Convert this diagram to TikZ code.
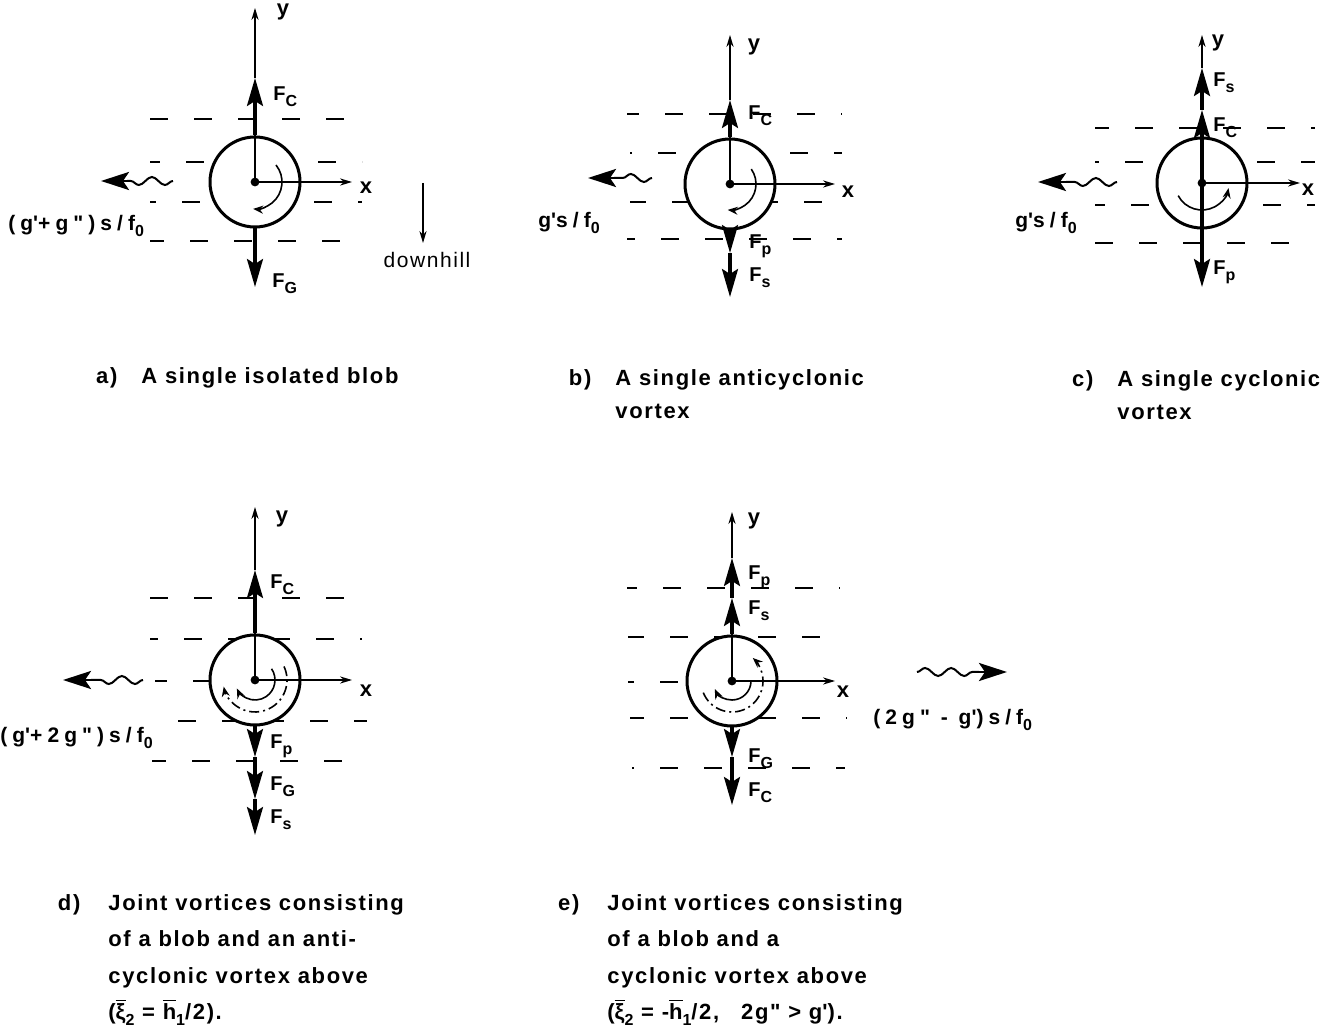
\documentclass[tikz,border=0pt]{standalone}
\usepackage{fontspec}
\setmainfont{Liberation Sans}
\newfontfamily\lettering[LetterSpace=7.5]{Liberation Sans}
\newfontfamily\wideletters[LetterSpace=24]{Liberation Sans}
\usetikzlibrary{arrows.meta,decorations.pathmorphing}
\newcommand{\lowidx}[1]{\raisebox{-0.55ex}{\fontsize{8}{8}\selectfont #1}}
\newcommand{\barred}[1]{\ensuremath{\overline{\hbox{#1}}}}
\newcommand{\prm}{\textquotesingle}
\tikzset{
  level/.style={line width=0.7pt,dash pattern=on 9pt off 13pt},
  blob/.style={circle,draw,line width=1.5pt,fill=white,inner sep=0pt,minimum size=45pt},
  axis/.style={line width=0.6pt,-{Stealth[length=6pt,width=3.6pt]}},
  stem/.style={line width=1pt},
  force/.style={line width=1.6pt,-{Stealth[length=14pt,width=8pt,inset=2.5pt]}},
  spin/.style={line width=0.8pt,-{Stealth[length=5pt,width=4pt]}},
  spinb/.style={spin,dash pattern=on 5pt off 2pt on 1pt off 2pt},
  wave/.style={line width=1pt,decorate,decoration={snake,amplitude=2pt,segment length=13pt}},
  drift/.style={line width=1.4pt,-{Stealth[length=14pt,width=9pt,inset=3pt]}},
  flab/.style={anchor=west,inner sep=0pt,font=\bfseries\fontsize{10}{10}\selectfont},
  alab/.style={inner sep=0pt,font=\bfseries\fontsize{11}{11}\selectfont},
  vlab/.style={anchor=west,inner sep=0pt,font=\wideletters\bfseries\fontsize{10.5}{10.5}\selectfont},
  capt/.style={anchor=north west,inner sep=0pt,align=left,font=\lettering\bfseries\fontsize{11}{16.5}\selectfont},
  captl/.style={capt,font=\lettering\bfseries\fontsize{11}{18.2}\selectfont},
}
\begin{document}
\begin{tikzpicture}[x=0.5pt,y=-0.5pt]
  \useasboundingbox (0,0) rectangle (1344,1036);

  % --- a) isolated blob ---
  \begin{scope}[shift={(255,182)}]
  \draw[level,dash phase=0pt]  (-105,-63) -- (107,-63);
  \draw[level,dash phase=4pt]  (-105,-20) -- (107,-20);
  \draw[level,dash phase=6pt]  (-105,20)  -- (107,20);
  \draw[level,dash phase=2pt]  (-105,59)  -- (107,59);
  \node[blob] (ba) at (0,0) {};
  \coordinate (ao)  at (0,0);
  \coordinate (ay)  at (0,-174);
  \coordinate (ax)  at (97,0);
  \coordinate (afc) at (0,-104);
  \coordinate (afg) at (0,105);
  \draw[stem] (ao) -- (ba.north);
  \draw[force] (ba.north) -- (afc);
  \draw[axis] (afc) -- (ay);
  \draw[force] (ba.south) -- (afg);
  \draw[axis] (ao) -- (ax);
  \fill (ao) circle[radius=2.2pt];
  \draw[spin] (ao) ++(-39:27) arc[start angle=-39,end angle=94,radius=27];
  \node[alab] (aylab) at (28,-170) {y};
  \node[alab] (axlab) at (111,6) {x};
  \node[flab] (afclab) at (18,-85) {F\lowidx{C}};
  \node[flab] (afglab) at (17,102) {F\lowidx{G}};
  \coordinate (aw0) at (-82,-1);
  \coordinate (aw1) at (-128,-1);
  \coordinate (aw2) at (-154,-1);
  \draw[wave] (aw0) -- (aw1);
  \draw[drift] (aw1) -- (aw2);
  \node[vlab] (avel) at (-247,44) {(g\prm+g")s/f\lowidx{0}};
  \coordinate (ad0) at (168,1);
  \coordinate (ad1) at (168,61);
  \draw[axis] (ad0) -- (ad1);
  \node[inner sep=0pt,font=\lettering\fontsize{10.5}{10.5}\selectfont] (adown) at (172,78) {downhill};
  \end{scope}

  % --- b) anticyclonic vortex ---
  \begin{scope}[shift={(730,184)}]
  \draw[level,dash phase=3pt]  (-103,-70) -- (112,-70);
  \draw[level,dash phase=8pt]  (-100,-31) -- (112,-31);
  \draw[level,dash phase=1pt]  (-100,18)  -- (112,18);
  \draw[level,dash phase=5pt]  (-103,55)  -- (112,55);
  \node[blob] (bb) at (0,0) {};
  \coordinate (bo)  at (0,0);
  \coordinate (by)  at (0,-149);
  \coordinate (bx)  at (105,0);
  \coordinate (bfc) at (0,-84);
  \coordinate (bfp) at (0,69);
  \coordinate (bfs) at (0,113);
  \draw[stem] (bo) -- (bb.north);
  \draw[force] (bb.north) -- (bfc);
  \draw[axis] (bfc) -- (by);
  \draw[force] (bb.south) -- (bfp);
  \draw[force] (bfp) -- (bfs);
  \draw[axis] (bo) -- (bx);
  \fill (bo) circle[radius=2.2pt];
  \draw[spin] (bo) ++(-35:26) arc[start angle=-35,end angle=95,radius=26];
  \node[alab] (bylab) at (24,-137) {y};
  \node[alab] (bxlab) at (118,8) {x};
  \node[flab] (bfclab) at (18,-68) {F\lowidx{C}};
  \node[flab] (bfplab) at (19,62) {F\lowidx{p}};
  \node[flab] (bfslab) at (19,94) {F\lowidx{s}};
  \coordinate (bw0) at (-78,-6);
  \coordinate (bw1) at (-116,-6);
  \coordinate (bw2) at (-142,-6);
  \draw[wave] (bw0) -- (bw1);
  \draw[drift] (bw1) -- (bw2);
  \node[vlab] (bvel) at (-192,39) {g\prm s/f\lowidx{0}};
  \end{scope}

  % --- c) cyclonic vortex ---
  \begin{scope}[shift={(1202,183)}]
  \draw[level,dash phase=2pt]  (-107,-55) -- (113,-55);
  \draw[level,dash phase=7pt]  (-107,-21) -- (113,-21);
  \draw[level,dash phase=4pt]  (-107,22)  -- (113,22);
  \draw[level,dash phase=0pt]  (-107,60)  -- (113,60);
  \node[blob] (cb) at (0,0) {};
  \coordinate (co)  at (0,0);
  \coordinate (cy)  at (0,-148);
  \coordinate (cx)  at (98,0);
  \coordinate (cfc) at (0,-73);
  \coordinate (cfs) at (0,-115);
  \coordinate (cfp) at (0,104);
  \draw[line width=1.6pt] (cb.south) -- (cb.north);
  \draw[force] (cb.north) -- (cfc);
  \draw[force] (cfc) -- (cfs);
  \draw[axis] (cfs) -- (cy);
  \draw[force] (cb.south) -- (cfp);
  \draw[axis] (co) -- (cx);
  \fill (co) circle[radius=2.2pt];
  \draw[spin] (co) ++(152:27) arc[start angle=152,end angle=11,radius=27];
  \node[alab] (cylab) at (16,-140) {y};
  \node[alab] (cxlab) at (106,7) {x};
  \node[flab] (cfslab) at (11,-100) {F\lowidx{s}};
  \node[flab] (cfclab) at (11,-55) {F\lowidx{C}};
  \node[flab] (cfplab) at (11,89) {F\lowidx{p}};
  \coordinate (cw0) at (-85,-1);
  \coordinate (cw1) at (-136,-1);
  \coordinate (cw2) at (-164,-1);
  \draw[wave] (cw0) -- (cw1);
  \draw[drift] (cw1) -- (cw2);
  \node[vlab] (cvel) at (-187,40) {g\prm s/f\lowidx{0}};
  \end{scope}

  % --- d) blob + anticyclonic vortex above ---
  \begin{scope}[shift={(255,680)}]
  \draw[level,dash phase=0pt]  (-105,-82) -- (105,-82);
  \draw[level,dash phase=5pt]  (-105,-41) -- (107,-41);
  \draw[level,dash phase=3pt]  (-100,1)   -- (0,1);
  \draw[level,dash phase=9pt]  (-103,41)  -- (112,41);
  \draw[level,dash phase=2pt]  (-103,81)  -- (107,81);
  \node[blob] (db) at (0,0) {};
  \coordinate (do)  at (0,0);
  \coordinate (dy)  at (0,-173);
  \coordinate (dx)  at (97,0);
  \coordinate (dfc) at (0,-110);
  \coordinate (dfp) at (0,77);
  \coordinate (dfg) at (0,119);
  \coordinate (dfs) at (0,155);
  \draw[stem] (do) -- (db.north);
  \draw[force] (db.north) -- (dfc);
  \draw[axis] (dfc) -- (dy);
  \draw[force] (db.south) -- (dfp);
  \draw[force] (dfp) -- (dfg);
  \draw[force] (dfg) -- (dfs);
  \draw[axis] (do) -- (dx);
  \fill (do) circle[radius=2.2pt];
  \draw[spin]  (do) ++(-34:20) arc[start angle=-34,end angle=155,radius=20];
  \draw[spinb] (do) ++(-25:32) arc[start angle=-25,end angle=168,radius=32];
  \node[alab] (dylab) at (27,-161) {y};
  \node[alab] (dxlab) at (111,11) {x};
  \node[flab] (dfclab) at (15,-95) {F\lowidx{C}};
  \node[flab] (dfplab) at (15,66) {F\lowidx{p}};
  \node[flab] (dfglab) at (15,107) {F\lowidx{G}};
  \node[flab] (dfslab) at (15,140) {F\lowidx{s}};
  \coordinate (dw0) at (-112,0);
  \coordinate (dw1) at (-164,0);
  \coordinate (dw2) at (-192,0);
  \draw[wave] (dw0) -- (dw1);
  \draw[drift] (dw1) -- (dw2);
  \node[vlab] (dvel) at (-255,58) {(g\prm+2g")s/f\lowidx{0}};
  \end{scope}

  % --- e) blob + cyclonic vortex above ---
  \begin{scope}[shift={(732,681)}]
  \draw[level,dash phase=4pt]  (-105,-93) -- (108,-93);
  \draw[level,dash phase=1pt]  (-104,-44) -- (113,-44);
  \draw[level,dash phase=6pt]  (-104,1)   -- (0,1);
  \draw[level,dash phase=2pt]  (-102,37)  -- (115,37);
  \draw[level,dash phase=8pt]  (-100,87)  -- (113,87);
  \node[blob] (eb) at (0,0) {};
  \coordinate (eo)  at (0,0);
  \coordinate (ey)  at (0,-169);
  \coordinate (ex)  at (103,0);
  \coordinate (efs) at (0,-83);
  \coordinate (efp) at (0,-123);
  \coordinate (efg) at (0,76);
  \coordinate (efc) at (0,124);
  \draw[stem] (eo) -- (eb.north);
  \draw[force] (eb.north) -- (efs);
  \draw[force] (efs) -- (efp);
  \draw[axis] (efp) -- (ey);
  \draw[force] (eb.south) -- (efg);
  \draw[force] (efg) -- (efc);
  \draw[axis] (eo) -- (ex);
  \fill (eo) circle[radius=2.2pt];
  \draw[spin]  (eo) ++(0:19) arc[start angle=0,end angle=155,radius=19];
  \draw[spinb] (eo) ++(158:31) arc[start angle=158,end angle=-48,radius=31];
  \node[alab] (eylab) at (22,-160) {y};
  \node[alab] (exlab) at (111,11) {x};
  \node[flab] (efplab) at (16,-104) {F\lowidx{p}};
  \node[flab] (efslab) at (16,-70) {F\lowidx{s}};
  \node[flab] (efglab) at (16,78) {F\lowidx{G}};
  \node[flab] (efclab) at (16,112) {F\lowidx{C}};
  \coordinate (ew0) at (185,-9);
  \coordinate (ew1) at (247,-9);
  \coordinate (ew2) at (275,-9);
  \draw[wave] (ew0) -- (ew1);
  \draw[drift] (ew1) -- (ew2);
  \node[vlab] (evel) at (141,39) {(2g" - g\prm)s/f\lowidx{0}};
  \end{scope}

  % --- captions ---
  \node[capt] (capa) at (141,367) {\llap{a)\hskip 12pt}A single isolated blob};
  \node[capt] (capb) at (615,369) {\llap{b)\hskip 12pt}A single anticyclonic\\vortex};
  \node[capt] (capc) at (1117,370) {\llap{c)\hskip 12pt}A single cyclonic\\vortex};
  \node[captl] (capd) at (108,894) {\llap{d)\hskip 14pt}Joint vortices consisting\\of a blob and an anti-\\cyclonic vortex above\\(\barred{ξ}\lowidx{2} = \barred{h}\lowidx{1}/2).};
  \node[captl] (cape) at (607,894) {\llap{e)\hskip 14pt}Joint vortices consisting\\of a blob and a\\cyclonic vortex above\\(\barred{ξ}\lowidx{2} = -\barred{h}\lowidx{1}/2,\quad 2g" > g\prm).};
\end{tikzpicture}
\end{document}
